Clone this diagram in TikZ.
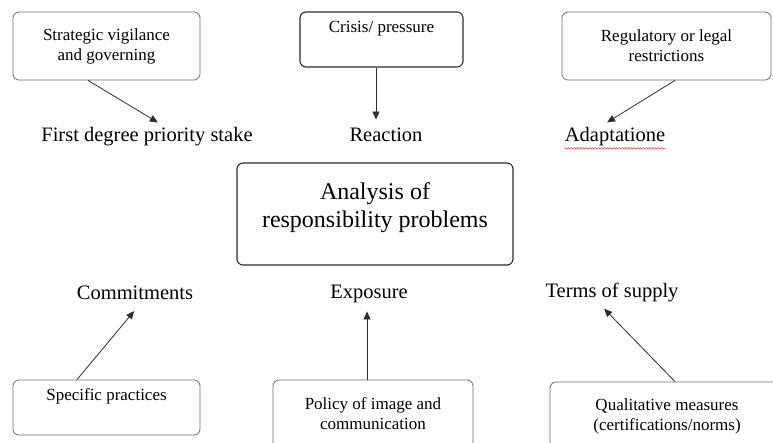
\documentclass[tikz,border=0pt]{standalone}
\usepackage{fontspec}
\setmainfont{LiberationSerif}[Extension=.ttf, UprightFont=*-Regular,
  BoldFont=*-Bold, ItalicFont=*-Italic, BoldItalicFont=*-BoldItalic]
\usetikzlibrary{positioning, arrows.meta, decorations.pathmorphing}
\definecolor{boxGray}{RGB}{110,110,110}
\definecolor{lineGray}{RGB}{45,45,45}
\definecolor{spellRed}{RGB}{225,45,45}

\begin{document}
\begin{tikzpicture}[
  x=1pt, y=-1pt,
  box/.style={draw=boxGray, line width=0.8pt, rounded corners=6pt, align=center,
    font=\rmfamily\fontsize{17}{20}\selectfont, inner sep=2pt},
  dark/.style={draw=lineGray, line width=1.1pt},
  lbl/.style={font=\rmfamily\fontsize{20.5}{24}\selectfont, inner sep=2pt,
    text height=14pt, text depth=4.5pt},
  arr/.style={draw=lineGray, line width=0.8pt, shorten >=6pt,
    -{Triangle[length=8pt, width=7pt]}},
]
  \clip (0,0) rectangle (773,442);

  \node[box, minimum width=187pt, minimum height=68pt] (vig) at (106.5, 46)
    {Strategic vigilance\\and governing};
  \node[box, dark, minimum width=163pt, minimum height=55pt] (crisis) at (381.5, 39.5)
    {Crisis/ pressure\\\strut};
  \node[box, minimum width=209pt, minimum height=68pt] (regul) at (666.5, 46)
    {Regulatory or legal\\restrictions};

  \node[lbl] (stake) at (147, 137) {First degree priority stake};
  \node[lbl] (reaction) at (386, 137) {Reaction};
  \node[lbl] (adapt) at (615, 137) {Adaptatione};
  \draw[spellRed, line width=0.5pt, decorate,
    decoration={snake, amplitude=0.8pt, segment length=3pt}]
    ([xshift=2pt]adapt.south west) -- ([xshift=-2pt]adapt.south east);

  \node[box, dark, minimum width=276pt, minimum height=102pt, text depth=17pt,
    font=\rmfamily\fontsize{24}{28}\selectfont] (analysis) at (375, 214)
    {Analysis of\\responsibility problems};

  \node[lbl] (commit) at (135, 295) {Commitments};
  \node[lbl] (exposure) at (369, 294) {Exposure};
  \node[lbl] (terms) at (612, 293) {Terms of supply};

  \node[box, minimum width=187pt, minimum height=55pt] (practices) at (106.5, 407.5)
    {Specific practices\\\strut};
  \node[box, minimum width=200pt, minimum height=68pt] (policy) at (373, 414)
    {Policy of image and\\communication};
  \node[box, minimum width=234pt, minimum height=68pt] (qual) at (667, 416)
    {Qualitative measures\\(certifications/norms)};

  \draw[arr] ([xshift=-18.5pt]vig.south) -- ([xshift=16pt]stake.north);
  \draw[arr] ([xshift=-5.5pt]crisis.south) -- ([xshift=-10pt]reaction.north);
  \draw[arr] ([xshift=8.5pt]regul.south) -- ([xshift=-13pt]adapt.north);
  \draw[arr] ([xshift=-29.5pt]practices.north) -- ([xshift=3pt]commit.south);
  \draw[arr] ([xshift=-6pt]policy.north) -- ([xshift=-2pt]exposure.south);
  \draw[arr] ([xshift=8pt]qual.north) -- ([xshift=-12pt]terms.south);
\end{tikzpicture}
\end{document}
